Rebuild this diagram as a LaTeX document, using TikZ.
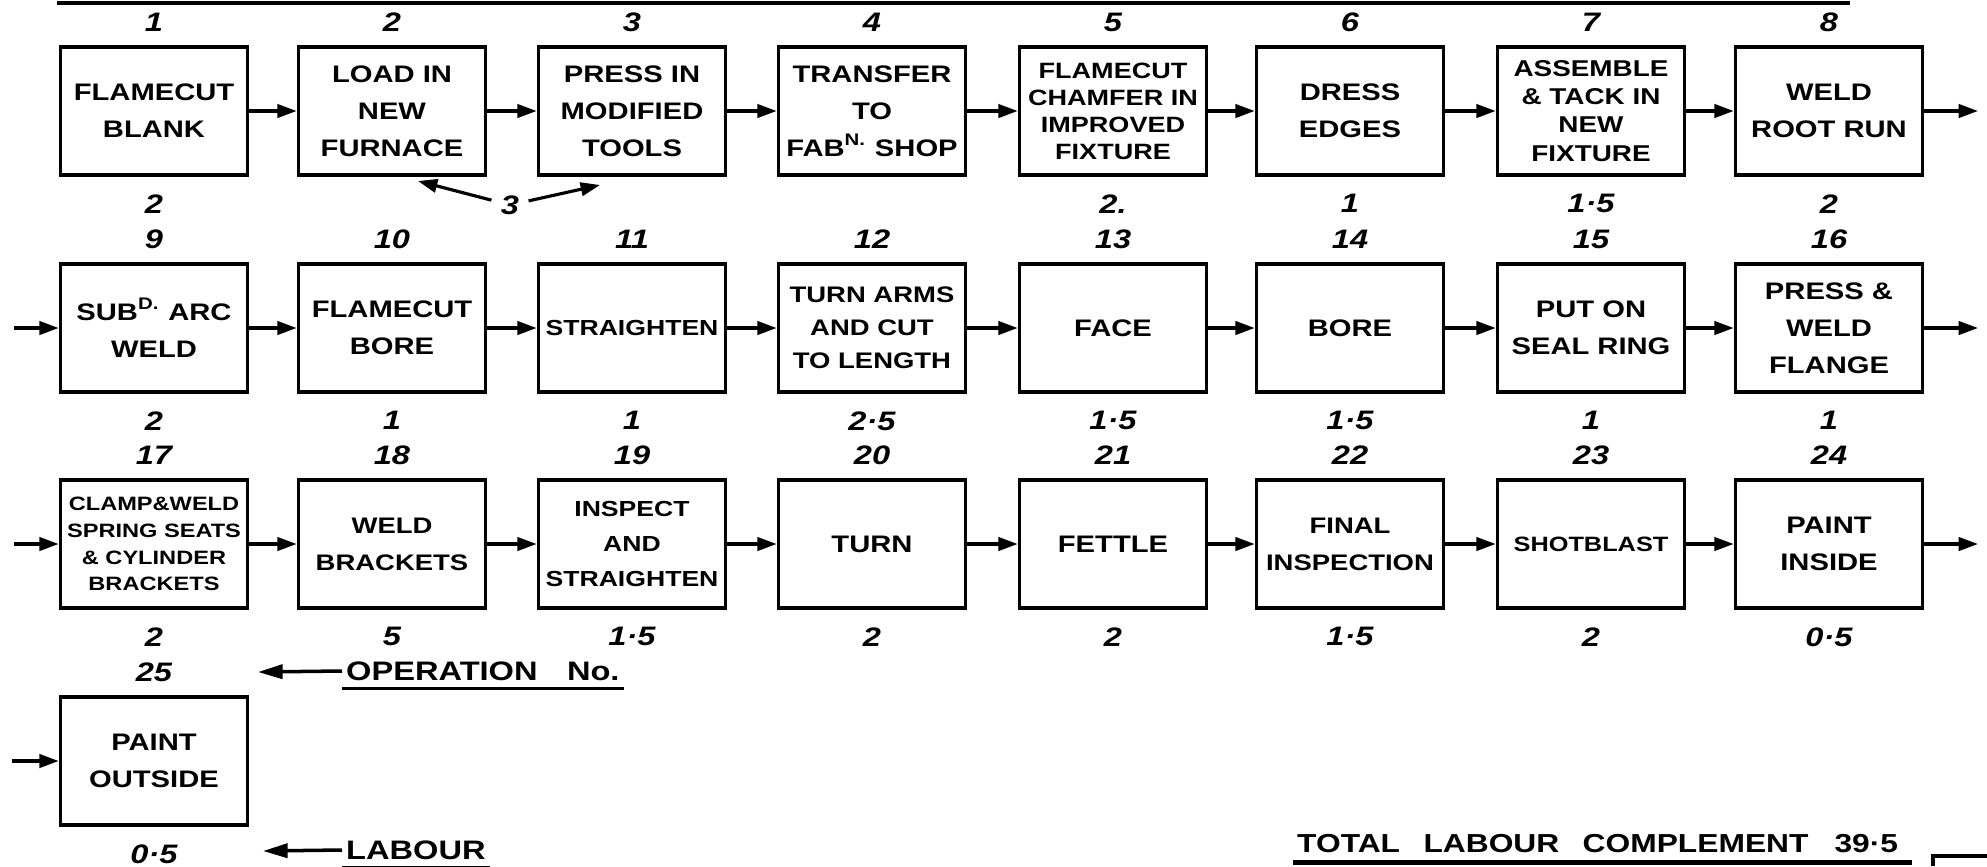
\documentclass[tikz,border=0pt]{standalone}
\usepackage{fontspec}
\newfontfamily\hand[FakeStretch=1.22]{Liberation Sans}
\usetikzlibrary{arrows.meta}
\tikzset{
  opbox/.style={draw, line width=1pt, minimum width=1.87cm, minimum height=1.28cm,
    inner sep=1pt, align=center, font=\hand\bfseries\fontsize{6.8}{10.5}\selectfont},
  num/.style={font=\hand\bfseries\itshape\fontsize{7.6}{9}\selectfont, inner sep=0pt},
  opno/.style={label={[num,label distance=0.13cm]above:#1}},
  lab/.style={label={[num,label distance=0.17cm]below:#1}},
  flow/.style={line width=0.9pt, -{Triangle[length=5.5pt,width=3.8pt]}},
  legarrow/.style={line width=1pt, -{Triangle[length=7pt,width=4pt]}},
  legend/.style={font=\hand\bfseries\fontsize{7.6}{9}\selectfont, inner sep=1pt, anchor=west},
  heavy/.style={line width=1.4pt},
}
\begin{document}
\begin{tikzpicture}[x=0.01cm,y=-0.01cm]
\fill[white] (0,0) rectangle (1987,866);
\useasboundingbox (0,0) rectangle (1987,866);

% top rule
\coordinate (ruleL) at (57,3);
\coordinate (ruleR) at (1850,3);
\draw[heavy] (ruleL) -- (ruleR);

% ---------- row 1 ----------
\node[opbox,opno=1,lab=2] (b1) at (154,111) {FLAMECUT\\BLANK};
\node[opbox,opno=2] (b2) at (392,111) {LOAD IN\\NEW\\FURNACE};
\node[opbox,opno=3] (b3) at (632,111) {PRESS IN\\MODIFIED\\TOOLS};
\node[opbox,opno=4] (b4) at (872,111) {TRANSFER\\TO\\FAB\textsuperscript{N.} SHOP};
\node[opbox,opno=5,lab=2.,font=\hand\bfseries\fontsize{6.3}{7.7}\selectfont] (b5) at (1113,111) {FLAMECUT\\CHAMFER IN\\IMPROVED\\FIXTURE};
\node[opbox,opno=6,lab=1] (b6) at (1350,111) {DRESS\\EDGES};
\node[opbox,opno=7,lab=1·5,font=\hand\bfseries\fontsize{6.5}{8}\selectfont] (b7) at (1591,111) {ASSEMBLE\\\& TACK IN\\NEW\\FIXTURE};
\node[opbox,opno=8,lab=2] (b8) at (1829,111) {WELD\\ROOT RUN};
\coordinate (r1end) at (1978,111);

% ---------- row 2 ----------
\coordinate (r2start) at (14,328);
\node[opbox,opno=9,lab=2] (b9) at (154,328) {SUB\textsuperscript{D.} ARC\\WELD};
\node[opbox,opno=10,lab=1] (b10) at (392,328) {FLAMECUT\\BORE};
\node[opbox,opno=11,lab=1,font=\hand\bfseries\fontsize{6.2}{8}\selectfont] (b11) at (632,328) {STRAIGHTEN};
\node[opbox,opno=12,lab=2·5,font=\hand\bfseries\fontsize{6.4}{9.4}\selectfont] (b12) at (872,328) {TURN ARMS\\AND CUT\\TO LENGTH};
\node[opbox,opno=13,lab=1·5] (b13) at (1113,328) {FACE};
\node[opbox,opno=14,lab=1·5] (b14) at (1350,328) {BORE};
\node[opbox,opno=15,lab=1] (b15) at (1591,328) {PUT ON\\SEAL RING};
\node[opbox,opno=16,lab=1] (b16) at (1829,328) {PRESS \&\\WELD\\FLANGE};
\coordinate (r2end) at (1978,328);

% ---------- row 3 ----------
\coordinate (r3start) at (14,544);
\node[opbox,opno=17,lab=2,font=\hand\bfseries\fontsize{5.5}{7.6}\selectfont] (b17) at (154,544) {CLAMP\&WELD\\SPRING SEATS\\\& CYLINDER\\BRACKETS};
\node[opbox,opno=18,lab=5,font=\hand\bfseries\fontsize{6.4}{10.5}\selectfont] (b18) at (392,544) {WELD\\BRACKETS};
\node[opbox,opno=19,lab=1·5,font=\hand\bfseries\fontsize{6.2}{10}\selectfont] (b19) at (632,544) {INSPECT\\AND\\STRAIGHTEN};
\node[opbox,opno=20,lab=2] (b20) at (872,544) {TURN};
\node[opbox,opno=21,lab=2] (b21) at (1113,544) {FETTLE};
\node[opbox,opno=22,lab=1·5,font=\hand\bfseries\fontsize{6.4}{10.5}\selectfont] (b22) at (1350,544) {FINAL\\INSPECTION};
\node[opbox,opno=23,lab=2,font=\hand\bfseries\fontsize{5.9}{8}\selectfont] (b23) at (1591,544) {SHOTBLAST};
\node[opbox,opno=24,lab=0·5] (b24) at (1829,544) {PAINT\\INSIDE};
\coordinate (r3end) at (1978,544);

% ---------- row 4 ----------
\coordinate (r4start) at (12,761);
\node[opbox,opno=25,lab=0·5] (b25) at (154,761) {PAINT\\OUTSIDE};

% ---------- flow arrows ----------
\foreach \a/\b in {b1/b2,b2/b3,b3/b4,b4/b5,b5/b6,b6/b7,b7/b8,
                   b9/b10,b10/b11,b11/b12,b12/b13,b13/b14,b14/b15,b15/b16,
                   b17/b18,b18/b19,b19/b20,b20/b21,b21/b22,b22/b23,b23/b24}
  \draw[flow] (\a.east) -- (\b.west);
\draw[flow] (b8.east) -- (r1end);
\draw[flow] (r2start) -- (b9.west);
\draw[flow] (b16.east) -- (r2end);
\draw[flow] (r3start) -- (b17.west);
\draw[flow] (b24.east) -- (r3end);
\draw[flow] (r4start) -- (b25.west);

% ---------- shared labour "3" ----------
\node[num,inner sep=2.5pt] (three) at (510,205) {3};
\coordinate (threeL) at (418,181);
\coordinate (threeR) at (600,185);
\draw[flow] (three) -- (threeL);
\draw[flow] (three) -- (threeR);

% ---------- legend ----------
\node[legend] (optext) at (342,671) {OPERATION\hspace{1.1em}No.};
\coordinate (opTip) at (258,672);
\draw[legarrow] (optext.west) -- (opTip);
\draw[line width=0.9pt] ([yshift=-1.2pt]optext.south west) -- ([yshift=-1.2pt]optext.south east);

\node[legend] (labtext) at (342,850) {LABOUR};
\coordinate (labTip) at (263,851);
\draw[legarrow] (labtext.west) -- (labTip);
\draw[line width=0.9pt] ([yshift=-1.2pt]labtext.south west) -- ([yshift=-1.2pt]labtext.south east);

\node[legend,font=\hand\bfseries\fontsize{7.4}{9}\selectfont] (total) at (1293,844) {TOTAL\hspace{0.9em}LABOUR\hspace{0.9em}COMPLEMENT\hspace{1em}39·5};
\draw[heavy] ([yshift=-1.5pt]total.south west) -- ([xshift=0.1cm,yshift=-1.5pt]total.south east);

% partial frame, bottom right
\coordinate (fA) at (1933,866);
\coordinate (fB) at (1933,856);
\coordinate (fC) at (1987,856);
\draw[line width=1pt] (fA) -- (fB) -- (fC);
\end{tikzpicture}
\end{document}
